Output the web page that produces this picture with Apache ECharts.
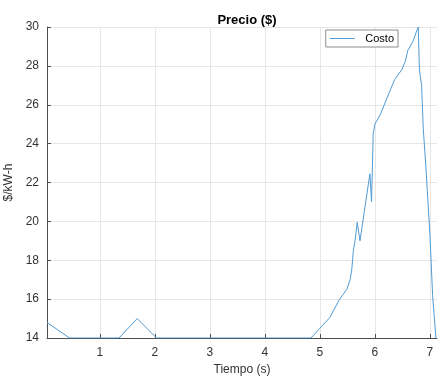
<!DOCTYPE html>
<html>
<head>
<meta charset="utf-8">
<script src="https://cdn.jsdelivr.net/npm/echarts@6/dist/echarts.min.js"></script>
<style>
  html, body { margin: 0; padding: 0; background: #fff; }
  #chart { width: 438px; height: 377px; }
</style>
</head>
<body>
<div id="chart"></div>
<script>
// tiempo (s) y costo ($/kW-h)
const tiempo = [0.04, 0.45, 1.35, 1.68, 2.03, 4.84, 5.0, 5.18, 5.36, 5.49, 5.55, 5.58, 5.61, 5.64, 5.68, 5.73,
  5.91, 5.94, 5.97, 6.0, 6.1, 6.2, 6.36, 6.49, 6.55, 6.6, 6.7, 6.76, 6.79, 6.81, 6.85, 6.88, 6.93, 7.0, 7.05, 7.11]
const costo = [14.8, 14.0, 14.0, 15.0, 14.0, 14.0, 14.5, 15.05, 16.0, 16.5, 17.0, 17.5, 18.5, 19.0, 19.95, 19.0,
  22.45, 21.0, 24.5, 25.0, 25.5, 26.2, 27.3, 27.8, 28.2, 28.8, 29.3, 29.8, 30.0, 27.8, 27.0, 24.8, 22.7, 19.4, 16.2, 14.0]
const xTicks = [1, 2, 3, 4, 5, 6, 7]

const chart = echarts.init(document.getElementById('chart'))
const font = 'Liberation Sans, Arial, sans-serif'
const axisColor = '#333'

chart.setOption({
  animation: false,
  title: {
    text: 'Precio ($)',
    left: 242,
    top: 9,
    textAlign: 'center',
    textStyle: { fontFamily: font, fontSize: 13, fontWeight: 'bold', color: '#000' }
  },
  legend: {
    right: 40,
    top: 30,
    data: ['Costo'],
    icon: 'path://M0,0 L1,0 L1,0.04 L0,0.04 Z',
    itemWidth: 36,
    itemHeight: 1,
    itemGap: 4,
    padding: [3, 4, 3, 4],
    borderColor: '#8c8c8c',
    borderWidth: 1,
    borderRadius: 0,
    backgroundColor: '#fff',
    textStyle: { fontFamily: font, fontSize: 11, color: '#000', padding: [0, 0, 0, 0] }
  },
  grid: { left: 47, right: 1, top: 27, bottom: 39, outerBoundsMode: 'none' },
  xAxis: {
    type: 'value',
    min: 0.04,
    max: 7.13,
    name: 'Tiempo (s)',
    nameLocation: 'middle',
    nameGap: 25,
    nameTextStyle: { fontFamily: font, fontSize: 12, color: axisColor },
    axisLine: { onZero: false, lineStyle: { color: '#4d4d4d', width: 1 } },
    axisTick: { customValues: xTicks, inside: true, length: 4, lineStyle: { color: '#4d4d4d' } },
    axisLabel: { customValues: xTicks, fontFamily: font, fontSize: 12, color: axisColor, margin: 9 },
    splitLine: { show: true, lineStyle: { color: '#e6e6e6', width: 1 } }
  },
  yAxis: {
    type: 'value',
    min: 14,
    max: 30,
    interval: 2,
    name: '$/kW-h',
    nameLocation: 'middle',
    nameGap: 27,
    nameTextStyle: { fontFamily: font, fontSize: 12, color: axisColor },
    axisLine: { show: true, lineStyle: { color: '#4d4d4d', width: 1 } },
    axisTick: { show: true, inside: true, length: 4, lineStyle: { color: '#4d4d4d' } },
    axisLabel: { fontFamily: font, fontSize: 12, color: axisColor, margin: 8 },
    splitLine: { show: true, lineStyle: { color: '#e6e6e6', width: 1 } }
  },
  series: [
    {
      name: 'Costo',
      type: 'line',
      data: tiempo.map((t, i) => [t, costo[i]]),
      showSymbol: false,
      symbol: 'none',
      clip: true,
      lineStyle: { color: '#4f9bd6', width: 1 },
      itemStyle: { color: '#4f9bd6' }
    }
  ]
})
</script>
</body>
</html>
